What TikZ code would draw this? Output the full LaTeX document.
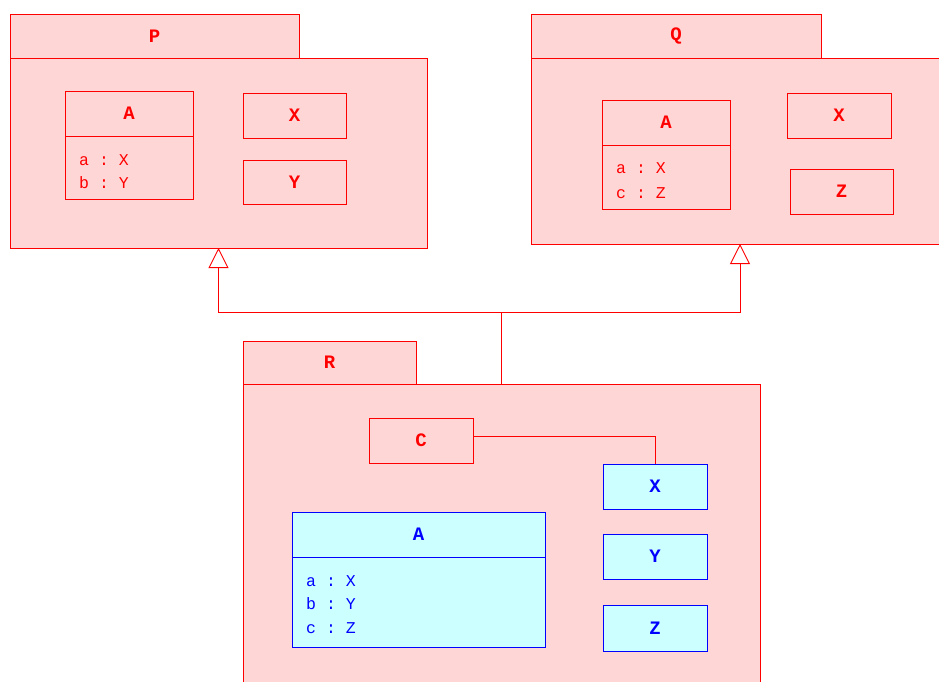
\documentclass[tikz,border=0pt]{standalone}
\usepackage{fontspec}
\setmonofont{Liberation Mono}
\usetikzlibrary{arrows.meta}
\definecolor{pkgfill}{RGB}{255,214,214}
\definecolor{clsfill}{RGB}{204,255,255}
\begin{document}
\begin{tikzpicture}[x=1pt,y=-1pt,
  base/.style={line width=0.9pt, inner sep=0pt, anchor=north west, outer sep=0pt},
  lbl/.style={font=\ttfamily\bfseries\fontsize{19}{20}\selectfont},
  pkg/.style={base, lbl, draw=red, fill=pkgfill, text=red},
  rbox/.style={base, lbl, draw=red, fill=pkgfill, text=red},
  bbox/.style={base, lbl, draw=blue, fill=clsfill, text=blue},
  attr/.style={inner sep=0pt, anchor=base west, font=\ttfamily\fontsize{16.5}{20}\selectfont},
  rat/.style={attr, text=red},
  bat/.style={attr, text=blue},
  conn/.style={draw=red, line width=0.9pt},
  inh/.style={conn, -{Triangle[open, length=20pt, width=20pt]}}]
\clip (0,0) rectangle (939,681);
\fill[white] (0,0) rectangle (939,681);
% package P
\node[pkg, minimum width=289, minimum height=44] (Ptab) at (10,14) {P};
\node[pkg, minimum width=417, minimum height=190] (Pbody) at (10,58) {};
\node[rbox, minimum width=128, minimum height=45] (PAh) at (65,91) {A};
\node[rbox, minimum width=128, minimum height=63] (PAa) at (65,136) {};
\node[rat] (PA1) at (79,165) {a : X};
\node[rat] (PA2) at (79,188.5) {b : Y};
\node[rbox, minimum width=103, minimum height=45] (PX) at (243,93) {X};
\node[rbox, minimum width=103, minimum height=44] (PY) at (243,160) {Y};
% package Q
\node[pkg, minimum width=290, minimum height=44] (Qtab) at (531,14) {Q};
\node[pkg, minimum width=418, minimum height=186] (Qbody) at (531,58) {};
\node[rbox, minimum width=128, minimum height=45] (QAh) at (602,100) {A};
\node[rbox, minimum width=128, minimum height=64] (QAa) at (602,145) {};
\node[rat] (QA1) at (616,173.5) {a : X};
\node[rat] (QA2) at (616,198) {c : Z};
\node[rbox, minimum width=104, minimum height=45] (QX) at (787,93) {X};
\node[rbox, minimum width=103, minimum height=45] (QZ) at (790,169) {Z};
% package R
\node[pkg, minimum width=173, minimum height=43] (Rtab) at (243,341) {R};
\node[pkg, minimum width=517, minimum height=320] (Rbody) at (243,384) {};
\node[rbox, minimum width=104, minimum height=45] (C) at (369,418) {C};
\node[bbox, minimum width=104, minimum height=45] (RX) at (603,464) {X};
\node[bbox, minimum width=104, minimum height=45] (RY) at (603,534) {Y};
\node[bbox, minimum width=104, minimum height=46] (RZ) at (603,605) {Z};
\node[bbox, minimum width=253, minimum height=45] (RAh) at (292,512) {A};
\node[bbox, minimum width=253, minimum height=90] (RAa) at (292,557) {};
\node[bat] (RA1) at (306,586) {a : X};
\node[bat] (RA2) at (306,609.5) {b : Y};
\node[bat] (RA3) at (306,633) {c : Z};
% connectors
\coordinate (J) at (501.5,312);
\draw[conn] (Rbody.north) -- (J);
\draw[inh] (J) -| (Pbody.south);
\draw[inh] (J) -| (Qbody.south);
\draw[conn] ([yshift=4pt]C.east) -| (RX.north);
\end{tikzpicture}
\end{document}
